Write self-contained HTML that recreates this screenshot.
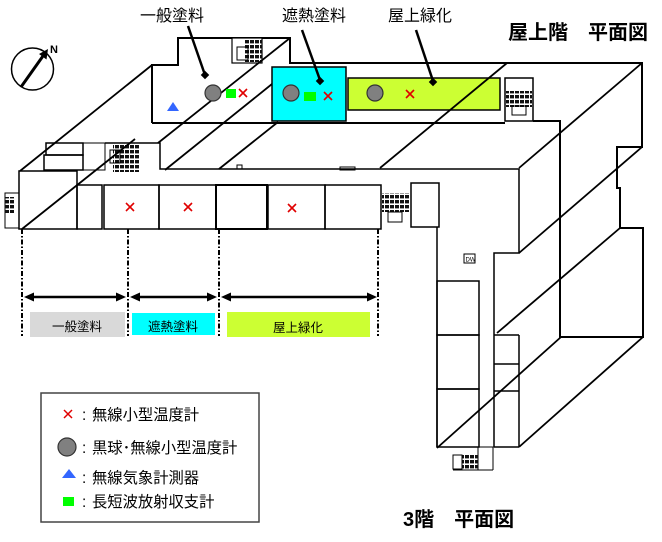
<!DOCTYPE html>
<html><head><meta charset="utf-8"><style>
html,body{margin:0;padding:0;background:#fff;}
svg{display:block;}
text{font-family:"Liberation Sans","Noto Sans CJK JP",sans-serif;fill:#000;}
</style></head><body>
<svg width="662" height="542" viewBox="0 0 662 542" xmlns="http://www.w3.org/2000/svg">
<defs>
<pattern id="h" width="5" height="5" patternUnits="userSpaceOnUse"><rect width="4" height="3.4" fill="#111"/></pattern>
</defs>
<rect width="662" height="542" fill="#fff"/>

<!-- ===== Roof outline ===== -->
<g fill="none" stroke="#000" stroke-width="2">
<path d="M152,123 L152,65 L178,65 L178,38 L290,38 L290,63 L642,63 L642,147 L617,147 L617,188 L620,188 L620,228 L643,228 L643,337 L560,337 L560,121 L533,121"/>
<path d="M152,123 L505,123"/>
</g>
<!-- roof stairs -->
<rect x="232" y="38" width="30" height="25" fill="#fff" stroke="#000" stroke-width="1.2"/>
<rect x="244" y="40" width="18" height="22" fill="url(#h)"/>
<rect x="237" y="47" width="11" height="13" fill="none" stroke="#000" stroke-width="1"/>
<rect x="505" y="78" width="28" height="43" fill="#fff" stroke="#000" stroke-width="1.5"/>
<rect x="506" y="91" width="26" height="16" fill="url(#h)"/>
<rect x="512" y="106" width="14" height="9" fill="none" stroke="#000" stroke-width="1"/>

<!-- ===== 3F plan ===== -->
<g fill="none" stroke="#000" stroke-width="1.5">
<rect x="19" y="171" width="58" height="58"/>
<rect x="77" y="185" width="25" height="44"/>
<rect x="104" y="185" width="55" height="44"/>
<rect x="159" y="185" width="57" height="44"/>
<rect x="216" y="185" width="51" height="44" stroke-width="2"/>
<rect x="268" y="185" width="57" height="44"/>
<rect x="325" y="185" width="56" height="44"/>
<rect x="46" y="143" width="37" height="12"/>
<rect x="44" y="155" width="39" height="15"/>
<rect x="83" y="143" width="22" height="27" stroke-width="1"/>
<path d="M105,143 L160,143 L160,169 L519,169 L519,253 L494,253 L494,447"/>
<rect x="411" y="183" width="28" height="44"/>
<path d="M437,227 L437,447"/>
<rect x="437" y="281" width="42" height="54"/>
<rect x="437" y="335" width="42" height="54"/>
<rect x="437" y="389" width="42" height="58"/>
<path d="M519,335 L519,447 M494,335 L519,335 M494,364 L519,364 M494,391 L519,391 M494,447 L519,447"/>
<path d="M479,447 L494,447 M478,447 L478,470 M493,447 L493,470 M453,470 L493,470" stroke-width="1"/>
<rect x="340" y="167" width="15" height="3" stroke-width="1"/>
<rect x="237" y="165" width="5" height="4" stroke-width="1"/>
<rect x="464" y="254" width="11" height="9" stroke-width="1"/>
</g>
<text x="465.5" y="261.5" style="font-size:6px">DW</text>
<!-- 3F stairs -->
<rect x="113" y="143" width="27" height="29" fill="url(#h)"/>
<rect x="110" y="150" width="10" height="13" fill="none" stroke="#000" stroke-width="1"/>
<rect x="5" y="193" width="14" height="35" fill="none" stroke="#000" stroke-width="1"/>
<rect x="5" y="197" width="9" height="16" fill="url(#h)"/>
<rect x="382" y="193" width="28" height="19" fill="url(#h)"/>
<rect x="388" y="212" width="14" height="10" fill="none" stroke="#000" stroke-width="1"/>
<rect x="462" y="455" width="16" height="15" fill="url(#h)"/>
<rect x="453" y="455" width="9" height="14" fill="none" stroke="#000" stroke-width="1"/>

<!-- ===== colored roof areas ===== -->
<rect x="272" y="67" width="74" height="54" fill="#00ffff" stroke="#000" stroke-width="1.5"/>
<rect x="348" y="78" width="152" height="32" fill="#ccff33" stroke="#000" stroke-width="1.5"/>

<!-- ===== diagonals ===== -->
<g stroke="#000" stroke-width="1.8" fill="none">
<line x1="20" y1="171" x2="152" y2="65"/>
<line x1="22" y1="229" x2="135" y2="139"/>
<line x1="158" y1="143" x2="290" y2="38"/>
<line x1="165" y1="170" x2="272" y2="84"/>
<line x1="219" y1="169" x2="278" y2="122"/>
<line x1="380" y1="168" x2="507" y2="63"/>
<line x1="519" y1="168" x2="642" y2="63"/>
<line x1="519" y1="253" x2="642" y2="147"/>
<line x1="497" y1="333" x2="620" y2="228"/>
<line x1="519" y1="447" x2="643" y2="337"/>
<line x1="437" y1="448" x2="561" y2="337"/>
</g>

<!-- ===== roof markers ===== -->
<circle cx="213" cy="93" r="8" fill="#808080" stroke="#333" stroke-width="1.2"/>
<circle cx="291" cy="93" r="8" fill="#808080" stroke="#333" stroke-width="1.2"/>
<circle cx="375" cy="93" r="8" fill="#808080" stroke="#333" stroke-width="1.2"/>
<rect x="226" y="89" width="10" height="9" fill="#00ff00"/>
<rect x="304" y="92" width="12" height="9" fill="#00ff00"/>
<polygon points="173,102 179,111 167,111" fill="#3366ff"/>
<g stroke="#e00000" stroke-width="1.6">
<path d="M239,89 L247,97 M247,89 L239,97"/>
<path d="M324,92 L332,100 M332,92 L324,100"/>
<path d="M406,90 L414,98 M414,90 L406,98"/>
<path d="M126,203 L134,211 M134,203 L126,211"/>
<path d="M184,203 L192,211 M192,203 L184,211"/>
<path d="M288,204 L296,212 M296,204 L288,212"/>
</g>

<!-- ===== leaders & top labels ===== -->
<g stroke="#000" stroke-width="2.5">
<line x1="188" y1="26" x2="205" y2="75"/>
<line x1="302" y1="30" x2="320" y2="80"/>
<line x1="416" y1="30" x2="433" y2="81"/>
</g>
<rect x="202" y="72" width="6" height="6" fill="#000" transform="rotate(45 205 75)"/>
<rect x="317" y="78" width="6" height="6" fill="#000" transform="rotate(45 320 81)"/>
<rect x="430" y="79" width="6" height="6" fill="#000" transform="rotate(45 433 82)"/>
<text x="172" y="21" text-anchor="middle" style="font-size:16px">一般塗料</text>
<text x="314" y="21" text-anchor="middle" style="font-size:16px">遮熱塗料</text>
<text x="420" y="21" text-anchor="middle" style="font-size:16px">屋上緑化</text>
<text x="508" y="39" style="font-size:20px;font-weight:bold">屋上階　平面図</text>
<text x="403" y="526" style="font-size:20px;font-weight:bold">3階　平面図</text>

<!-- ===== compass ===== -->
<circle cx="32.5" cy="69" r="21" fill="none" stroke="#000" stroke-width="1.5"/>
<line x1="21" y1="87" x2="43" y2="56" stroke="#000" stroke-width="3"/>
<polygon points="48,49 46.5,59.5 39,54" fill="#000"/>
<text x="50" y="53" style="font-size:11px;font-weight:bold">N</text>

<!-- ===== dash-dot lines & arrows ===== -->
<g stroke="#000" stroke-width="2" stroke-dasharray="5,2,1.5,2">
<line x1="22" y1="229" x2="22" y2="336"/>
<line x1="128" y1="229" x2="128" y2="336"/>
<line x1="219" y1="229" x2="219" y2="336"/>
<line x1="378" y1="229" x2="378" y2="336"/>
</g>
<g stroke="#000" stroke-width="2.5">
<line x1="30" y1="297" x2="118" y2="297"/>
<line x1="138" y1="297" x2="209" y2="297"/>
<line x1="229" y1="297" x2="369" y2="297"/>
</g>
<g fill="#000">
<polygon points="24,297 34,292.5 34,301.5"/>
<polygon points="126,297 116,292.5 116,301.5"/>
<polygon points="130,297 140,292.5 140,301.5"/>
<polygon points="217,297 207,292.5 207,301.5"/>
<polygon points="221,297 231,292.5 231,301.5"/>
<polygon points="377,297 367,292.5 367,301.5"/>
</g>
<rect x="30" y="312" width="95" height="25" fill="#d9d9d9"/>
<rect x="132" y="313" width="83" height="22" fill="#00ffff"/>
<rect x="227" y="312" width="143" height="25" fill="#ccff33"/>
<text x="77" y="331" text-anchor="middle" style="font-size:12.5px">一般塗料</text>
<text x="173" y="331" text-anchor="middle" style="font-size:12.5px">遮熱塗料</text>
<text x="298" y="332" text-anchor="middle" style="font-size:12.5px">屋上緑化</text>

<!-- ===== legend ===== -->
<rect x="41" y="393" width="218" height="129" fill="#fff" stroke="#444" stroke-width="1.5"/>
<path d="M64,410 L72,418 M72,410 L64,418" stroke="#e00000" stroke-width="1.5"/>
<circle cx="67" cy="447" r="9" fill="#808080" stroke="#333" stroke-width="1.2"/>
<polygon points="69,469 76,478 62,478" fill="#3366ff"/>
<rect x="63" y="497" width="11" height="9" fill="#00ff00"/>
<g style="font-size:15.3px">
<text x="82" y="420">:</text><text x="92" y="420">無線小型温度計</text>
<text x="82" y="453">:</text><text x="92" y="453">黒球･無線小型温度計</text>
<text x="82" y="483">:</text><text x="92" y="483">無線気象計測器</text>
<text x="82" y="507">:</text><text x="92" y="507">長短波放射収支計</text>
</g>
</svg>
</body></html>
